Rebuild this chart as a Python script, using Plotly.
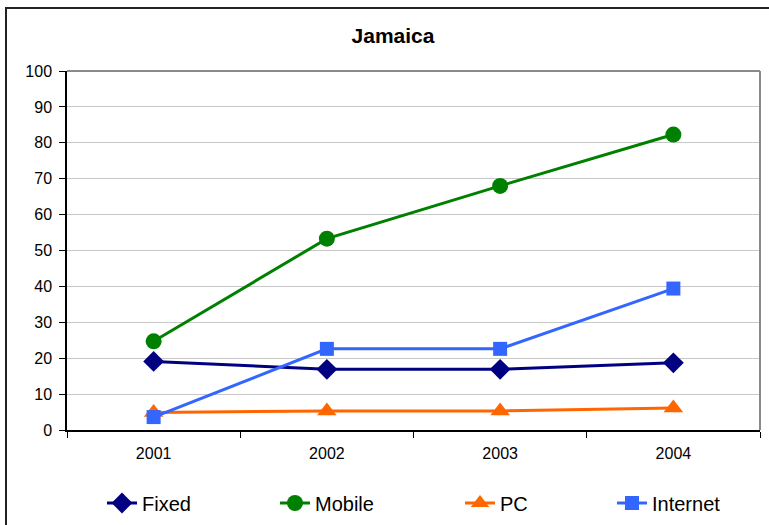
import plotly.graph_objects as go

years = ["2001", "2002", "2003", "2004"]
fixed = [19.1, 16.9, 16.9, 18.7]
mobile = [24.7, 53.3, 68.0, 82.3]
pc = [4.9, 5.3, 5.3, 6.1]
internet = [3.6, 22.6, 22.6, 39.4]

series = [
    ("Fixed", fixed, "#000080", "diamond", 16, "legend"),
    ("Mobile", mobile, "#008000", "circle", 16, "legend2"),
    ("PC", pc, "#FF6600", "triangle-up", 17, "legend3"),
    ("Internet", internet, "#3366FF", "square", 14, "legend4"),
]

L, R, T, B = 67, 760, 71, 430
W, H = 769, 525
pw, ph = R - L, B - T

def px(x):
    return (x - L) / pw

def py(y):
    return (B - y) / ph

fig = go.Figure()
for name, vals, color, sym, size, leg in series:
    fig.add_trace(go.Scatter(
        x=years, y=vals, name=name, mode="lines+markers",
        line=dict(color=color, width=3),
        marker=dict(symbol=sym, size=size, color=color),
        legend=leg,
    ))

font = "Liberation Sans, Arial, sans-serif"
leg_x = [95, 268, 453, 605]
legends = {}
for i, key in enumerate(["legend", "legend2", "legend3", "legend4"]):
    legends[key] = dict(
        x=px(leg_x[i] + 7), xanchor="left", y=py(503), yanchor="middle",
        orientation="h", font=dict(family=font, size=20, color="#000000"),
        bgcolor="rgba(0,0,0,0)", borderwidth=0,
    )

fig.update_layout(
    width=W, height=H,
    margin=dict(l=L, r=W - R, t=T, b=H - B, pad=0, autoexpand=False),
    paper_bgcolor="white", plot_bgcolor="white",
    title=dict(text="<b>Jamaica</b>", xref="container", x=393 / W, xanchor="center",
               yref="container", y=1 - 36 / H, yanchor="middle",
               font=dict(family=font, size=21, color="#000000")),
    showlegend=True,
    **legends,
)

fig.update_xaxes(
    type="category", range=[-0.5, 3.5], tickson="boundaries",
    ticks="outside", ticklen=6, tickcolor="#000000", tickwidth=1,
    showline=True, linecolor="#000000", linewidth=1.5,
    showgrid=False, tickfont=dict(family=font, size=16, color="#000000"),
    ticklabelstandoff=8,
)
fig.update_yaxes(
    range=[0, 100], dtick=10, ticks="outside", ticklen=6,
    tickcolor="#000000", tickwidth=1,
    showline=True, linecolor="#000000", linewidth=1.5,
    showgrid=True, gridcolor="#c8c8c8", gridwidth=1, zeroline=False,
    tickfont=dict(family=font, size=16, color="#000000"),
    ticklabelstandoff=4,
)

# plot-area frame (top and right, gray)
fig.add_shape(type="line", xref="paper", yref="paper", x0=0, x1=1, y0=1, y1=1,
              line=dict(color="#8a8a8a", width=2))
fig.add_shape(type="line", xref="paper", yref="paper", x0=1, x1=1, y0=0, y1=1,
              line=dict(color="#8a8a8a", width=2))
# chart outer border
fig.add_shape(type="rect", xref="paper", yref="paper",
              x0=px(6), x1=px(W + 20), y0=py(H + 20), y1=py(8),
              line=dict(color="#222222", width=2), layer="below")

fig.write_html("out.html", config={"displayModeBar": False},
               post_script="document.body.style.margin='0';document.body.style.overflow='hidden';")
